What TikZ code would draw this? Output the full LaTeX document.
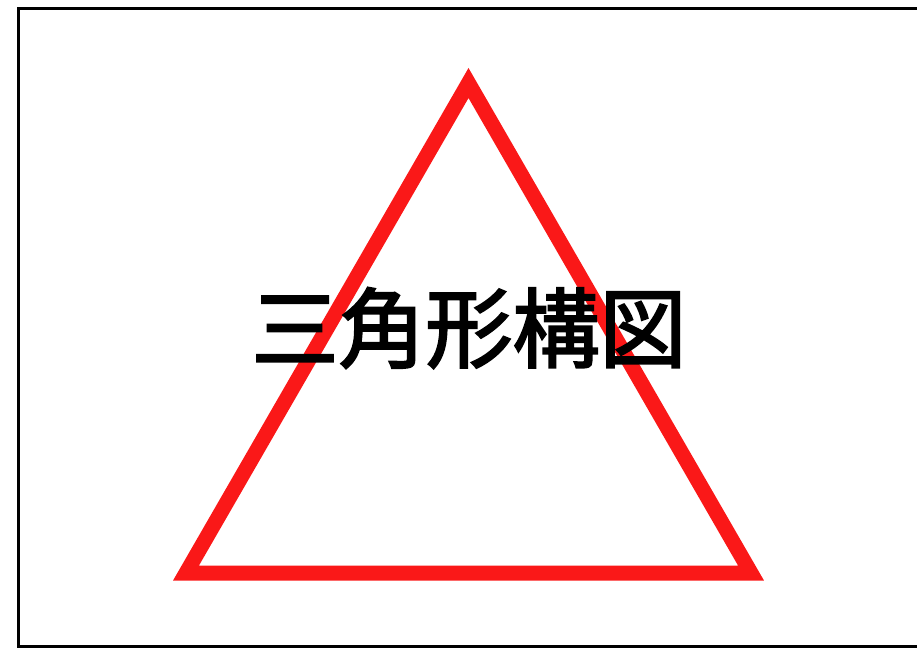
\documentclass[tikz,border=0pt]{standalone}
\usepackage{fontspec}
\newfontfamily\cjk{Noto Sans CJK JP}[FakeBold=2.5]
\usetikzlibrary{positioning}
\definecolor{trired}{RGB}{250,24,24}

\begin{document}
\begin{tikzpicture}[x=1pt, y=-1pt]
\tikzstyle{frame}=[draw=black, line width=3pt]
\tikzstyle{tri}=[draw=trired, line width=15pt, line join=miter]
\tikzstyle{title}=[font=\cjk\fontsize{87}{92}\selectfont, inner sep=0pt]
\useasboundingbox (0,0) rectangle (917,649);
\draw[frame] (18.5,8.5) rectangle (919,646.5);
\coordinate (top) at (468.5,83);
\coordinate (left) at (186,573);
\coordinate (right) at (751,573);
\draw[tri] (top) -- (left) -- (right) -- cycle;
\node[title] (caption) at (469,328) {三角形構図};
\end{tikzpicture}
\end{document}
